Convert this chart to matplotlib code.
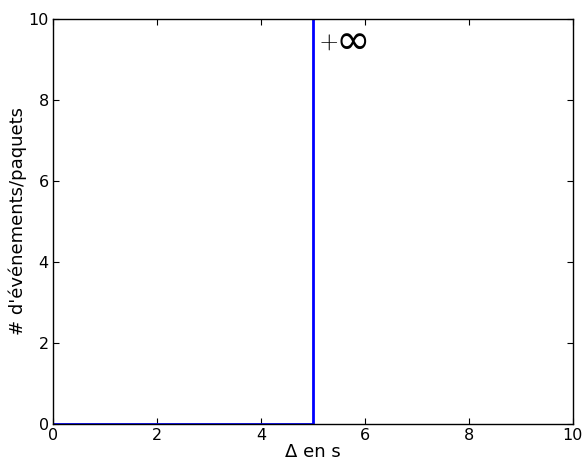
import matplotlib
matplotlib.use('Agg')
import matplotlib.pyplot as plt

# Step: no events before 5 s, then jumps to +inf
x_vals = [0, 5, 5]
y_vals = [0, 0, 1e6]

plt.rcParams['mathtext.fontset'] = 'cm'

fig = plt.figure(figsize=(5.84, 4.59), dpi=100)
ax = fig.add_axes([0.0908, 0.0763, 0.8902, 0.8823])
ax.plot(x_vals, y_vals, color='#0000ff', linewidth=2)
ax.set_xlim(0, 10)
ax.set_ylim(0, 10)
ax.set_xticks([0, 2, 4, 6, 8, 10])
ax.set_yticks([0, 2, 4, 6, 8, 10])
ax.tick_params(direction='in', top=True, right=True, length=4, labelsize=11.5, pad=3)
# "+inf" annotation: thin plus, large infinity sign
ax.text(5.12, 9.43, r'$+$', fontsize=17, va='center', ha='left')
ax.text(5.44, 9.43, '∞', fontsize=30, family='DejaVu Sans', va='center', ha='left')
ax.set_xlabel('Δ en s', fontsize=13, labelpad=0)
ax.set_ylabel("# d'événements/paquets", fontsize=13, labelpad=1)
for s in ax.spines.values():
    s.set_linewidth(1)

fig.savefig('out.png', dpi=100)
